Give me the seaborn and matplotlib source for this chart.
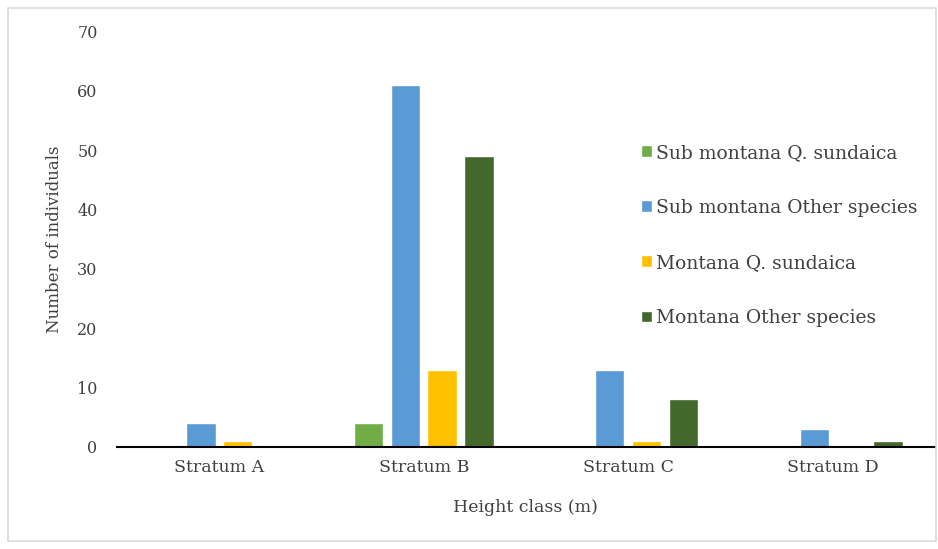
import matplotlib
matplotlib.use('Agg')
import matplotlib.pyplot as plt
import seaborn as sns
import pandas as pd
from matplotlib.patches import Rectangle

# data
strata = ['Stratum A', 'Stratum B', 'Stratum C', 'Stratum D']
series = ['Sub montana Q. sundaica', 'Sub montana Other species',
          'Montana Q. sundaica', 'Montana Other species']
sub_q = [0, 4, 0, 0]
sub_other = [4, 61, 13, 3]
mon_q = [1, 13, 1, 0]
mon_other = [0, 49, 8, 1]
colors = ['#70AD47', '#5B9BD5', '#FFC000', '#43682B']

rows = []
for name, vals in zip(series, [sub_q, sub_other, mon_q, mon_other]):
    for s, v in zip(strata, vals):
        rows.append({'stratum': s, 'series': name, 'count': v})
df = pd.DataFrame(rows)

sns.set_style('white')
plt.rcParams['font.family'] = ['DejaVu Serif']
txt = '#404040'

fig = plt.figure(figsize=(9.38, 5.49), dpi=100)
ax = fig.add_axes([0.1247, 0.186, 0.872, 0.757])

sns.barplot(data=df, x='stratum', y='count', hue='series', hue_order=series,
            order=strata, palette=colors, width=0.72, gap=0.2,
            saturation=1, ax=ax)

ax.set_ylim(0, 70)
ax.set_yticks(range(0, 71, 10))
ax.set_xlim(-0.5, 3.5)
sns.despine(ax=ax, left=True, top=True, right=True)
ax.spines['bottom'].set_color('black')
ax.spines['bottom'].set_linewidth(1.5)
ax.tick_params(axis='y', length=0, labelsize=11.5, colors=txt, pad=14)
ax.tick_params(axis='x', length=0, labelsize=12.5, colors=txt, pad=9)

ax.set_ylabel('Number of individuals', fontsize=12, color=txt)
ax.set_xlabel('Height class (m)', fontsize=12.5, color=txt)
ax.yaxis.set_label_coords(-0.066, 0.5)
ax.xaxis.set_label_coords(0.5, -0.125)

ax.legend(loc='upper left', bbox_to_anchor=(0.62, 0.77), frameon=False,
          fontsize=13.5, labelcolor=txt, handlelength=0.6, handleheight=0.6,
          handletextpad=0.2, labelspacing=1.98)

fig.patches.append(Rectangle((0.008, 0.015), 0.99, 0.97, transform=fig.transFigure,
                             fill=False, edgecolor='#d9d9d9', linewidth=1.2))

fig.savefig('out.png', dpi=100, facecolor='white')
